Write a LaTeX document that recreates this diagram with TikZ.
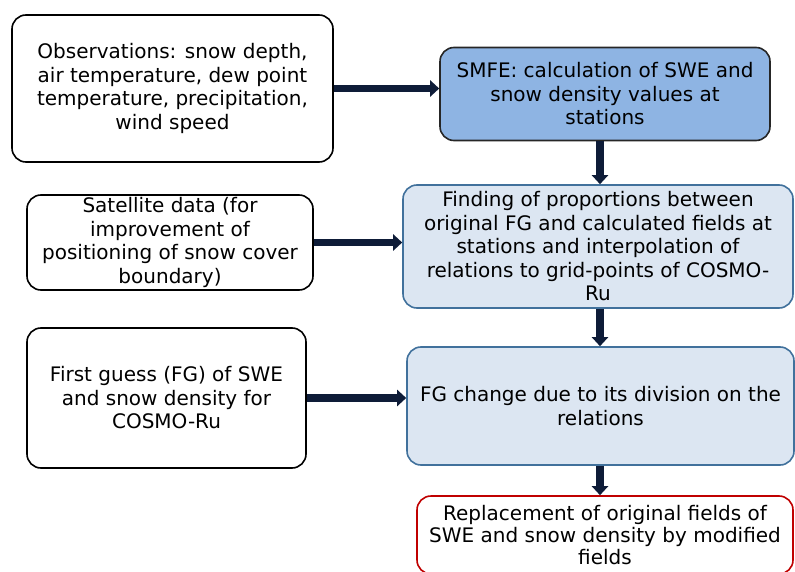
\documentclass[tikz,border=0pt]{standalone}
\usepackage{fontspec}
\setmainfont{DejaVu Sans}
\usetikzlibrary{arrows.meta}

\definecolor{arrowNavy}{HTML}{0E1C38}
\definecolor{smfeBlue}{HTML}{8EB4E3}
\definecolor{stepBlue}{HTML}{DCE6F2}
\definecolor{stepEdge}{HTML}{41719C}
\definecolor{resultRed}{HTML}{C00000}

\begin{document}
\begin{tikzpicture}[x=1pt, y=-1pt,
        box/.style={draw, line width=1.6pt, rounded corners=14pt, align=center,
            inner sep=0pt, font=\fontsize{20}{23.5}\selectfont},
        inbox/.style={box, draw=black},
        smfebox/.style={box, draw=black!85, fill=smfeBlue},
        stepbox/.style={box, draw=stepEdge, fill=stepBlue},
        outbox/.style={box, draw=resultRed, fill=white,
            font=\fontsize{20}{22}\selectfont},
        flow/.style={line width=7.5pt, color=arrowNavy,
            -{Triangle[length=9pt, width=16pt]}}]
            \useasboundingbox (0, 0) rectangle (795, 572);

            \node[inbox, minimum width=321pt, minimum height=147pt] (obs) at (172.5, 88.5)
                {Observations: snow depth,\\air temperature, dew point\\temperature, precipitation,\\wind speed};
            \node[smfebox, minimum width=330pt, minimum height=93pt] (smfe) at (605, 94)
                {SMFE: calculation of SWE and\\snow density values at\\stations};

            \node[inbox, minimum width=286pt, minimum height=95pt] (sat) at (170, 242.5)
                {Satellite data (for\\improvement of\\positioning of snow cover\\boundary)};
            \node[stepbox, minimum width=390pt, minimum height=123pt] (find) at (598, 246.5)
                {Finding of proportions between\\original FG and calculated fields at\\stations and interpolation of\\relations to grid-points of COSMO-\\Ru};

            \node[inbox, minimum width=279pt, minimum height=140pt] (fgs) at (166.5, 398)
                {First guess (FG) of SWE\\and snow density for\\COSMO-Ru};
            \node[stepbox, minimum width=387pt, minimum height=118pt] (fgch) at (600.5, 406)
                {FG change due to its division on the\\relations};

            \node[outbox, minimum width=376pt, minimum height=78pt] (repl) at (605, 535)
                {Replacement of original fields of\\SWE and snow density by modified\\fields};

            \foreach \a/\b in {obs/smfe, sat/find, fgs/fgch} {
                \draw[flow] (\a.east) -- (\a.east -| \b.west);
            }
            \foreach \a/\b in {smfe/find, find/fgch, fgch/repl} {
                \draw[flow] (\a.south -| 600, 0) -- (\b.north -| 600, 0);
            }
\end{tikzpicture}
\end{document}
